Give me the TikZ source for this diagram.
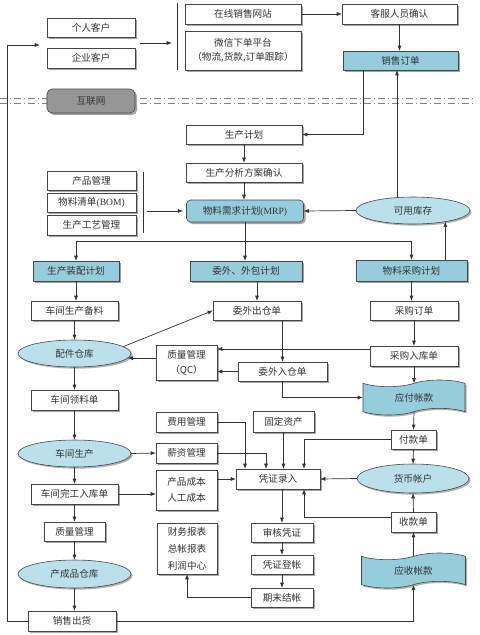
\documentclass[tikz,border=0pt]{standalone}
\usepackage{fontspec}
\newfontfamily\cjk{Noto Sans CJK SC}
\newfontfamily\latin{Liberation Serif}
\usepackage{xcolor}
\usepackage{tikz}
\usetikzlibrary{arrows.meta,calc,shadows,shapes.geometric,shapes.symbols}
\definecolor{flowblue}{RGB}{150,205,220}
\definecolor{poolblue}{RGB}{188,224,235}
\definecolor{netgray}{RGB}{150,150,150}
\definecolor{edgegray}{RGB}{70,70,70}

\begin{document}
\begin{tikzpicture}[
    x=0.3mm, y=-0.3mm,
    >={Latex[length=1.6mm,width=1.2mm]},
    every node/.style={font=\cjk\fontsize{8.2}{13}\selectfont, text=black!80, outer sep=0pt, inner sep=1pt},
    doc/.style={draw=edgegray, line width=0.5pt, fill=white, align=center, minimum height=6mm, drop shadow={shadow xshift=0.6mm, shadow yshift=-0.6mm, fill=black!35, opacity=1}},
    plan/.style={doc, fill=flowblue},
    store/.style={ellipse, draw=edgegray, line width=0.5pt, fill=poolblue, minimum width=33.9mm, minimum height=8.1mm, drop shadow={shadow xshift=0.5mm, shadow yshift=-0.5mm, fill=black!30, opacity=1}},
    ledger/.style={tape, draw=edgegray, line width=0.5pt, fill=flowblue, tape bend height=2mm, drop shadow={shadow xshift=0.5mm, shadow yshift=-0.5mm, fill=black!30, opacity=1}},
    netbox/.style={doc, rounded corners=1.5mm, fill=netgray},
    link/.style={line width=0.6pt, draw=black!80},
    sepline/.style={line width=0.6pt, gray, dash pattern=on 2.1mm off 0.8mm on 0.5mm off 0.8mm}
]
\useasboundingbox (0,0) rectangle (479,635);
\draw[sepline] (0,98) -- (472,98);
\draw[sepline] (0,103) -- (472,103);

\node[doc, minimum width=26.4mm, minimum height=5.7mm] (person) at (91,27.5) {个人客户};
\node[doc, minimum width=26.4mm] (company) at (91,58) {企业客户};
\node[netbox, minimum width=26.4mm, minimum height=7.2mm] (net) at (91,101) {互联网};
\node[doc, minimum width=34.8mm] (site) at (243,14) {在线销售网站};
\node[doc, minimum width=34.8mm, minimum height=11.7mm, font=\cjk\fontsize{8.2}{12}\selectfont] (wechat) at (243,50.5) {微信下单平台\\（物流,货款,订单跟踪）};
\node[doc, minimum width=34.5mm] (service) at (399.5,14) {客服人员确认};
\node[plan, minimum width=34.5mm, minimum height=5.7mm] (order) at (400.5,60.5) {销售订单};
\node[doc, minimum width=34.8mm, minimum height=5.7mm] (mps) at (244,134.5) {生产计划};
\node[doc, minimum width=34.8mm, minimum height=5.7mm] (analysis) at (244,172.5) {生产分析方案确认};
\node[plan, rounded corners=1.2mm, minimum width=35.1mm, minimum height=6.6mm] (mrp) at (245,211) {物料需求计划{\latin(MRP)}};
\node[store, minimum width=34.2mm] (stock) at (413,210.5) {可用库存};
\node[doc, minimum width=26.7mm, minimum height=5.7mm] (product) at (91.5,180.5) {产品管理};
\node[doc, minimum width=26.7mm, minimum height=5.7mm] (bom) at (91.5,202.5) {物料清单{\latin(BOM)}};
\node[doc, minimum width=26.7mm] (craft) at (91.5,225) {生产工艺管理};
\node[plan, minimum width=25.8mm] (assembly) at (76,271) {生产装配计划};
\node[plan, minimum width=33.6mm] (outsource) at (246,271) {委外、外包计划};
\node[plan, minimum width=33.3mm, minimum height=6.3mm] (purplan) at (411.5,270.5) {物料采购计划};
\node[doc, minimum width=26.1mm, minimum height=5.7mm] (prepare) at (74.5,310.5) {车间生产备料};
\node[doc, minimum width=26.4mm, minimum height=5.7mm] (outissue) at (257,310.5) {委外出仓单};
\node[doc, minimum width=26.4mm, minimum height=5.7mm] (purorder) at (414,310.5) {采购订单};
\node[store] (parts) at (74.5,353.5) {配件仓库};
\node[doc, minimum width=18.3mm, minimum height=10.5mm] (qc) at (186.5,362.5) {质量管理\\（QC）};
\node[doc, minimum width=26.4mm] (purin) at (414,356) {采购入库单};
\node[doc, minimum width=26.7mm, minimum height=5.7mm] (outin) at (282.5,371.5) {委外入仓单};
\node[ledger, minimum width=30.6mm, minimum height=10.5mm] (payable) at (414,397.5) {应付帐款};
\node[doc, minimum width=26.1mm] (picking) at (74.5,400) {车间领料单};
\node[doc, minimum width=18.3mm] (expense) at (186.5,422) {费用管理};
\node[doc, minimum width=18.3mm, minimum height=6.3mm] (asset) at (283.5,421.5) {固定资产};
\node[doc, minimum width=13.5mm, minimum height=5.7mm] (payslip) at (413.5,439.5) {付款单};
\node[store] (workshop) at (74.5,453.5) {车间生产};
\node[doc, minimum width=18.3mm] (salary) at (186.5,453) {薪资管理};
\node[store, minimum width=33.6mm, minimum height=8.7mm] (money) at (413,478.5) {货币帐户};
\node[doc, minimum width=25.2mm] (voucher) at (278,479) {凭证录入};
\node[doc, minimum width=18.3mm, minimum height=12mm, font=\cjk\fontsize{8.2}{13.6}\selectfont] (cost) at (186.5,490) {产品成本\\人工成本};
\node[doc, minimum width=26.1mm] (finished) at (74.5,494) {车间完工入库单};
\node[doc, minimum width=13.5mm] (receipt) at (413.5,522) {收款单};
\node[doc, minimum width=18.3mm, minimum height=5.7mm] (quality) at (74.5,531.5) {质量管理};
\node[doc, minimum width=18mm, minimum height=15.3mm, font=\cjk\fontsize{8.2}{14.5}\selectfont] (report) at (187,548.5) {财务报表\\总帐报表\\利润中心};
\node[doc, minimum width=18.6mm, minimum height=5.7mm] (audit) at (282,532.5) {审核凭证};
\node[doc, minimum width=18.6mm, minimum height=5.7mm] (posting) at (282,564.5) {凭证登帐};
\node[ledger, minimum width=31.2mm, minimum height=10.5mm] (receivable) at (413.5,570.5) {应收帐款};
\node[store, minimum height=8.4mm] (goods) at (74.5,574) {产成品仓库};
\node[doc, minimum width=18.6mm, minimum height=5.7mm] (closing) at (282,597.5) {期末结帐};
\node[doc, minimum width=26.4mm] (shipping) at (72,621) {销售出货};

\coordinate (custentry) at (40,45);
\coordinate (custgroup) at (140,43);
\coordinate (webgroup) at (172,43);
\coordinate (bomgroup) at (147,211);
\coordinate (qcin) at ($(purin.west)+(0,-7)$);
\coordinate (vin) at ($(voucher.north)+(26,0)$);
\coordinate (vout) at ($(voucher.south)+(26,0)$);
\coordinate (rcptout) at ($(receipt.west)+(0,-5)$);

\draw[link] (177,3) -- (177,70);
\draw[link] (143,172) -- (143,233);
\draw[link,->] (shipping.west) -- ++(-21,0) |- (custentry);
\draw[link,->] (custgroup) -- (webgroup);
\draw[link,->] (site.east) -- (service.west);
\draw[link,->] (service.south) -- (service.south |- order.north);
\draw[link,->] (order.south west) ++(20,0) |- (mps.east);
\draw[link,->] (mps.south) -- (analysis.north);
\draw[link,->] (analysis.south) -- (analysis.south |- mrp.north);
\draw[link,->] (stock.west) -- (mrp.east);
\draw[link,->] (stock.141) -- (stock.141 |- order.south);
\draw[link,->, shorten >=1mm] (bomgroup) -- (mrp.west);
\draw[link] (mrp.south) -- ++(0,19) coordinate (bus);
\draw[link,->] (bus) -| (assembly.north);
\draw[link,->] (bus) -| (purplan.north);
\draw[link,->] (bus) -- (bus |- outsource.north);
\draw[link,->] (purplan.north -| stock.-19) -- (stock.-19);
\draw[link,->] (assembly.south) -- (assembly.south |- prepare.north);
\draw[link,->] (outsource.south -| outissue.north) -- (outissue.north);
\draw[link,->] (purplan.south) -- (purplan.south |- purorder.north);
\draw[link,->] (prepare.south) -- (parts.north);
\draw[link,->] (parts.8) -- (outissue.west);
\draw[link,->] (qc.west |- parts.-5) -- (parts.-5);
\draw[link,->] (qcin) -- (qcin -| qc.east);
\draw[link,->] (outin.west) -- (outin.west -| qc.east);
\draw[link,->] (outissue.south -| outin.north) -- (outin.north);
\draw[link,->] (outin.south) |- (payable.west);
\draw[link,->] (purorder.south) -- (purin.north);
\draw[link,->] (purin.south) -- (payable.north);
\draw[link,->] (payable.south) -- (payslip.north);
\draw[link,->] (payslip.west) -| (vin);
\draw[link,->] (payslip.south) -- (money.north);
\draw[link,->] (money.west) -- (voucher.east);
\draw[link,->] (receipt.north) -- (money.south);
\draw[link,->] (rcptout) -| (vout);
\draw[link,->] (receivable.north) -- (receipt.south);
\draw[link,->] (shipping.east) -| (receivable.south);
\draw[link,->] (parts.south) -- (picking.north);
\draw[link,->] (picking.south) -- (workshop.north);
\draw[link,->] (workshop.east) -- (salary.west);
\draw[link,->] (workshop.south) -- (finished.north);
\draw[link,->] (finished.east) -- (finished.east -| cost.west);
\draw[link,->] (finished.south) -- (quality.north);
\draw[link,->] (quality.south) -- (goods.north);
\draw[link,->] (goods.south) -- (goods.south |- shipping.north);
\draw[link,->] (cost.east |- voucher.west) -- (voucher.west);
\draw[link,->] (expense.east) -| ($(voucher.north)+(-33,0)$);
\draw[link,->] (salary.east) -| ($(voucher.north)+(-12,0)$);
\draw[link,->] (asset.south) -- (asset.south |- voucher.north);
\draw[link,->] (voucher.south -| audit.north) -- (audit.north);
\draw[link,->] (audit.south) -- (posting.north);
\draw[link,->] (posting.south) -- (closing.north);
\draw[link,->] (closing.west) -| (report.south);
\end{tikzpicture}
\end{document}
